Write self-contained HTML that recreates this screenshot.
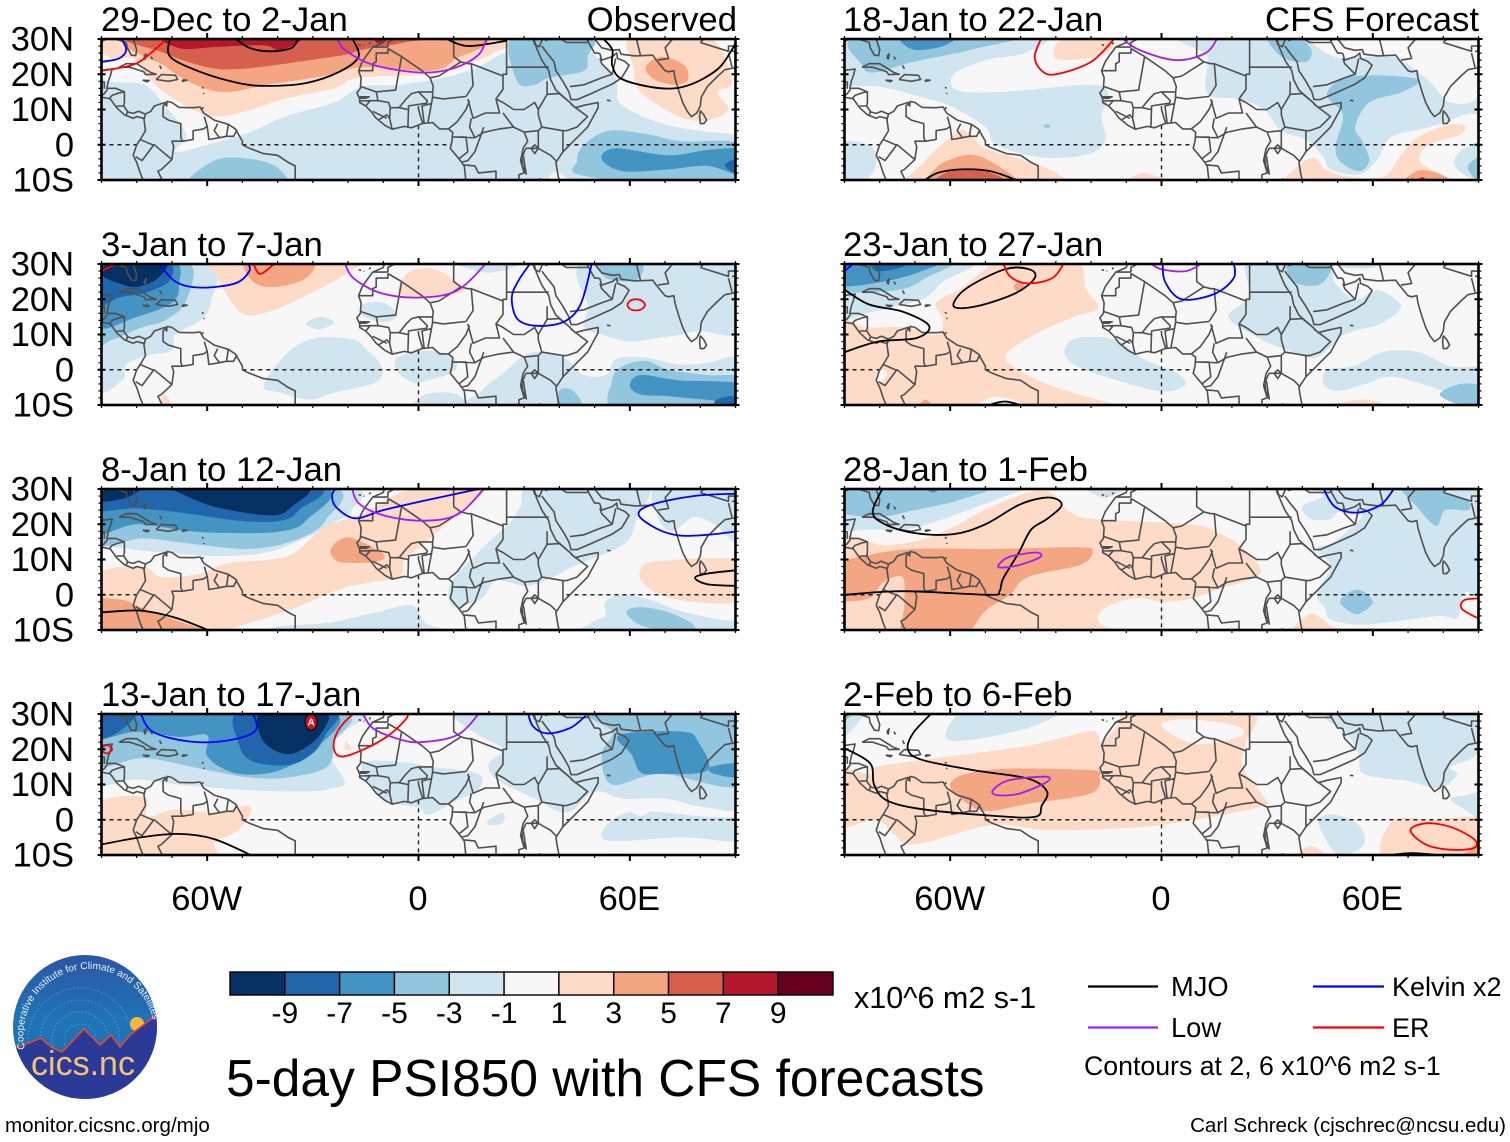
<!DOCTYPE html>
<html lang="en">
<head>
<meta charset="utf-8">
<title>5-day PSI850 with CFS forecasts</title>
<style>
html,body{margin:0;padding:0;background:#fff;width:1510px;height:1142px;overflow:hidden}
svg{display:block}
text{font-family:"Liberation Sans",sans-serif;fill:#000}
</style>
</head>
<body>
<svg id="chart" xmlns="http://www.w3.org/2000/svg" width="1510" height="1142" viewBox="0 0 1510 1142">
<rect width="1510" height="1142" fill="#fff"/>
<g id="panels"></g>
<g font-size="34.7">
<text x="101" y="31" font-size="34.7">29-Dec to 2-Jan</text>
<text x="101" y="256" font-size="34.7">3-Jan to 7-Jan</text>
<text x="101" y="481" font-size="34.7">8-Jan to 12-Jan</text>
<text x="101" y="706" font-size="34.7">13-Jan to 17-Jan</text>
<text x="843" y="31" font-size="34.7">18-Jan to 22-Jan</text>
<text x="843" y="256" font-size="34.7">23-Jan to 27-Jan</text>
<text x="843" y="481" font-size="34.7">28-Jan to 1-Feb</text>
<text x="843" y="706" font-size="34.7">2-Feb to 6-Feb</text>
<text x="737" y="31" font-size="34.7" text-anchor="end">Observed</text>
<text x="1479" y="31" font-size="34.7" text-anchor="end">CFS Forecast</text>
</g>
<g id="colorbar"></g>
<text x="854" y="1008" font-size="30.5">x10^6 m2 s-1</text>
<text x="226" y="1096" font-size="51.5">5-day PSI850 with CFS forecasts</text>
<g>
<line x1="1088" x2="1158" y1="986.5" y2="986.5" stroke="#000" stroke-width="2.2"/>
<text x="1171" y="996" font-size="27.3">MJO</text>
<line x1="1313" x2="1384" y1="986.5" y2="986.5" stroke="#0000ff" stroke-width="2.2"/>
<text x="1392" y="996" font-size="27">Kelvin x2</text>
<line x1="1088" x2="1158" y1="1027.5" y2="1027.5" stroke="#a020f0" stroke-width="2.2"/>
<text x="1171" y="1037" font-size="27.3">Low</text>
<line x1="1313" x2="1384" y1="1027.5" y2="1027.5" stroke="#ff0000" stroke-width="2.2"/>
<text x="1392" y="1037" font-size="27">ER</text>
<text x="1084" y="1075" font-size="26.7">Contours at 2, 6 x10^6 m2 s-1</text>
</g>
<text x="5" y="1132" font-size="20.6">monitor.cicsnc.org/mjo</text>
<text x="1506" y="1132" font-size="20.5" text-anchor="end">Carl Schreck (cjschrec@ncsu.edu)</text>
<g>
<defs>
<linearGradient id="logoSky" x1="0" y1="0" x2="0" y2="1"><stop offset="0" stop-color="#2b55a5"/><stop offset=".45" stop-color="#1f74b6"/><stop offset="1" stop-color="#1d6cb0"/></linearGradient>
<clipPath id="logoClip"><circle cx="85" cy="1027" r="72"/></clipPath>
<path id="logoArc" d="M 25 1049 A 64 64 0 1 1 153 1020"/>
</defs>
<circle cx="85" cy="1027" r="72" fill="url(#logoSky)"/>
<g clip-path="url(#logoClip)">
<g fill="none" stroke="#8fc0e4" stroke-opacity=".45" stroke-dasharray="1.5 2">
<circle cx="80" cy="1040" r="16"/><circle cx="80" cy="1040" r="28"/><circle cx="80" cy="1040" r="40"/><circle cx="80" cy="1040" r="52"/>
</g>
<circle cx="137" cy="1024" r="7" fill="#f5b83d"/>
<path d="M10 1050 L16 1048 L41 1038 L51 1047 L62 1052 L84 1029 L100 1045 L111 1035 L120 1047 L130 1035 L158 1014 L160 1105 L10 1105Z" fill="#2b3a96" stroke="#e8482c" stroke-width="1.6"/>
</g>
<text font-size="10" style="fill:#e8f2fa"><textPath href="#logoArc">Cooperative Institute for Climate and Satellites</textPath></text>
<text x="83" y="1075" font-size="34" text-anchor="middle" style="fill:#f3c27a">cics.nc</text>
</g>
</svg>
<script>
// ---- axis labels ----
const latTicks = [30, 20, 10, 0, -10];
const latTickLabels = ['30N', '20N', '10N', '0', '10S'];
const lonTicks = [-60, 0, 60];
const lonTickLabels = ['60W', '0', '60E'];
// ---- colour scale ----
const levelBreaks = [-9, -7, -5, -3, -1, 1, 3, 5, 7, 9];
const levelColors = ['#053061', '#2166ac', '#4393c3', '#92c5de', '#d1e5f0', '#f7f7f7', '#fddbc7', '#f4a582', '#d6604d', '#b2182b', '#67001f'];
const seriesColors = {mjo: '#000000', low: '#a020f0', kelvin: '#0000ff', er: '#ff0000'};
// ---- panel background psi value ----
const baseValues = [-2, 0, 0, 0, 0, 0, 0, 0];
// ---- filled PSI850 anomaly regions: [psi value, lon, lat, lon, lat ...] ----
const fills1 = [
[0,-92,31,-90,19,-78,17,-72,11,-66,3,-69,-2,-60,0,-48,3.5,-38,8,-24,12,-16,16.5,-5,17,11,20,22,25,25,31],
[0,49.5,31,56,19,57.5,11.5,71,5.5,89,3,92,3,92,31],
[0,36.5,-11,39,-7.5,43,-11],
[2,-88,31,-88,25,-81,24.5,-78.5,21,-73,15.5,-65,10.5,-58,8,-49,9.5,-38,13,-24,16,-17,19,3,20,11,22,21,26,22,31],
[2,60.5,31,61,22,63,15,74,8,82,7,88,10,85,15,89,18,82,31],
[4,64.5,22,69,25,75.5,22.5,76.5,18.5,73,17,67,18.5],
[4,-79,31,-71.5,22,-62,16.5,-54,15,-43,17,-27,19.5,-16,22,3,21,10,24,14,31],
[6,-79,31,-72,26,-60,22,-51,21.5,-38,23,-21,25.5,-16,27,-4,29,1,31],
[8,-71,31,-67.5,27.3,-56.5,27.8,-44,28.2,-39,26.8,-35,31],
[8,-13,31,-11,28.5,-8,31],
[-4,27,31,28,18,33,17,37,19,47,21,48,25,49,31],
[-4,-65,-12,-58,-4.5,-48,-4,-40,-6.5,-39,-12],
[-4,45,-4.5,47,0,54,4,65,3,74.5,1,92,0,92,-12,48,-9],
[-6,52,-4,56,-1,71,-3,82,-1.5,92,-1.5,92,-8.5,82,-6,71,-7,58,-7.5],
[-8,87,-6,91,-4,92,-9]
];
const fills2 = [
[-2,-59,32,-59,19,-62,14,-69,10,-70,5.5,-77,4,-83,1.5,-84,-3,-92,-4,-92,32],
[-2,48,31,48,18,47,12,52,10,60,8,68,9,75,10,80,11,92,11,92,31],
[-2,17,-12,18,-6,24,-1,30,4,35,5,42,3,46,-1,50,-2,54,-1,56,3,64,3.5,74,1.5,82,2,92,3,92,-12],
[-2,-44,-4.5,-37,5,-29,9,-18.5,8.5,-14.5,5.5,-10.5,1,-12,-3.5,-24,-6.5,-31,-8.5,-39,-6.5],
[-2,-6,-0.5,-6,3.5,3,5.5,10,3.5,10,-0.5,1,-3.5,-2,-3.5],
[-2,-2,-12,2,-7,11,-7,13,-12],
[-2,-16,18.5,-10,19,-6,15.5,-10,13.5,-16,15.5],
[-2,-32,13,-28,15,-24,13.5,-28,11.5],
[-2,10,31,20,27.5,30,31],
[-4,-66,31,-66,19.5,-72,14,-78.5,12,-87,8.5,-92,8,-92,31],
[-6,-70,31,-68,24,-70,19,-80,15,-92,12.5,-92,31],
[-8,-72,31,-70.5,25.5,-77,22,-85,20.5,-92,18,-92,31],
[-10,-72,31,-74,26,-80,23.5,-85,24.5,-90,27,-88,31],
[2,-57,31,-57,26.5,-55.5,23,-50,16,-43,16.3,-32,21,-21,27,-19,31],
[4,-48.5,31,-47,25,-40.5,23.5,-32,26,-30.5,31],
[2,-5,25,-1,28.5,6,28,13,22.5,3,20.5,-5,21.5],
[2,-73.5,-12,-72,-7,-69.5,-12],
[-4,51,31,53.5,26,62,25.5,63,31],
[-4,55,-3,58,1,64.5,2.5,71,0,82,-1.5,92,-2.5,92,-12,57,-12],
[-4,40,-12,40,-6,44,-6,47,-12],
[-6,60,-4.5,63,-1.5,74,-3,92,-4,92,-9,82,-8.5,71,-7.5,63,-7],
[-8,84,-9,88,-7.5,92,-8.5,92,-10.5,86,-10.5]
];
const fills3 = [
[-2,-92,16,-82,13,-72,12,-58,11,-43,12,-30,17,-24,20.5,-19,24,-22,31,-92,31],
[-2,26,20.5,29,25,33,31,64,31,62,22,60,16,56,13,44,8,36,4,30,2.5,22,4,18,-1,10,-3.5,9,3,16,11,21,16],
[-2,68,31,68,22,72,18,78,22,84,20,92,14,92,31],
[-2,53,-2,58,0,66,-1.5,74,-4.5,85,-7,92,-8,92,-12,47,-12,49,-8,53,-6],
[-2,-43,-12,-40,-9,-26,-8,-12,-5,-2,-3,2,-8,8,-12],
[-4,-92,14.5,-78.5,16,-65,14.5,-48,13,-35,15.5,-26.5,21,-26.5,31,-92,31],
[-6,-92,17.5,-80,20,-65,18,-51,17.5,-39,18,-32,21,-28.5,31,-92,31],
[-8,-92,24,-80,24.5,-65,23,-51,21,-39,21,-34,24,-30.5,31,-92,31],
[-10,-92,31,-92,26.5,-83,27.5,-79,31],
[-10,-72,31,-68,29,-58,25,-42,22.5,-36,25,-33,31],
[2,-92,5,-78.5,8,-73,5,-62,6,-54,9,-37,11,-27,19,-16,23,-2,30,19,31,11,23,1,14,-4,10,-6,5,-21,2,-37,-4.5,-54,-10,-54,-12,-92,-12],
[4,-25,12.5,-22.5,15.5,-18.5,16,-10,11.5,-11.5,9.5,-17,9,-23,9.5],
[4,-92,-2,-84,-1.5,-79,-3.5,-68,-7.5,-61,-10,-60,-12,-92,-12],
[2,63,7,68,9.5,92,9.5,92,-1.5,74,-1.5,64.5,2.5],
[-4,59,-5,63,-3.5,71,-5,78,-8.5,77,-11,64,-9]
];
const fills4 = [
[-2,-92,11,-80,11.5,-68,10,-50,8.5,-32,8,-24,9,-21,11,-26,20,-21,25,-20,31,-92,31],
[-2,24,31,92,31,92,5,82,3.5,70,6,58,6,50,8,42,2,33,6,22,11.5,20,16,24,20,17,24,10,30],
[-2,-16,16,-6,16.5,4,15,17,13,17,8.5,11,5.5,3,1.5,0,3.5,-8,5,-13,9],
[-2,52,-5,55,0,63,2.5,80,1,92,0,92,-6,75,-5,58,-6],
[-2,20,0,24,2,24,-1,20,-1.5],
[0,60,3,63,5,66,3,63,1],
[2,-92,4,-78,6.5,-77,1,-69,3,-58,2,-48.5,4,-48,1,-52,-3.5,-58,-6.5,-59,-12,-92,-12],
[2,-5,-11,0,-9.5,5,-11],
[2,52,-11,56,-9.5,60,-11],
[2,-21,20,-20.5,22,-19,20],
[-4,-92,15.5,-78,17.5,-62,14.5,-48,12,-37,12,-26,15,-24,22,-24,31,-92,31],
[-6,-92,23,-80,25,-68,23.5,-60,24,-60,18,-53,13.5,-44,13,-36,15.5,-28,21,-27,31,-92,31],
[-8,-92,31,-92,23,-85,25,-80,31],
[-8,-50.5,31,-51,21.5,-47,16.5,-37,15.5,-30.5,18.5,-26.5,24,-24,31],
[-10,-44,31,-45,24,-40.5,19.5,-35,19,-28,24,-26.5,31],
[-4,49,31,55,25,52,18.5,55,10,69,13,92,10,92,31],
[-6,57,24,75,25,79.5,22,82,14,68,13,63,13.5,60.5,18.5],
[-6,83,15,92,16,92,12,84,13]
];
const fills5 = [
[-2,-92,31,-92,18,-80,16.5,-70,14,-60,11,-50,5,-47,0,-35,-3.5,-22,-3,-16,1,-17,8,-15,14,-20,17,-45,15,-58,15.5,-59,20,-50,24,-39,26,-36,31],
[-2,-92,0,-83,0,-81,-5,-84,-10,-92,-12],
[-2,10,31,13,25,13,14.5,22,13,29,10,34,4,41,1.5,46,-3.5,48,-7,56,-8.5,61,-4.5,64,1,67,3,76,5,86,8.5,92,11,92,31],
[0,46,31,49,25,61,25,68,24,76,18,82,12,90,14,92,31],
[-2,83,-5,86,-1,92,0,92,-10,86,-8.5],
[-4,87,-6,91,-3.5,92,-9,89,-9.5],
[-4,-86,31,-85,22.5,-81.5,20.5,-70.5,23.5,-54,27,-41,31],
[-6,-74,31,-70.5,27,-62,28,-59,31],
[-4,30,31,34,25,41,23.5,42.5,27,38,31],
[-4,51,18.5,60,19.7,73,18.5,68.5,15,59,12,55,5,57,1,59,-4.5,56,-7.5,50.5,-4.5,49.5,0,51.5,8.5,47,14],
[-4,-33.5,5.3,-32.5,5.8,-31.5,5.3,-32.5,4.8],
[2,-70,-12,-67,-4.5,-58,3.5,-55,3.5,-50,-1,-40.5,-4,-30,-8,-29,-12],
[4,-65,-12,-64,-6.5,-56,-3,-50,-4,-42,-9,-40,-12],
[6,-63.5,-11,-60,-7.5,-50,-7.5,-44.5,-11],
[2,-30.5,25,-29.5,29,-24,31,-16,31,-13.5,28,-19,25,-27,24],
[2,-11,-12,-5,-8,3,-12],
[2,38,-12,40,-5,44,-4,46.5,-7,53,-9,63,-9,68,-3,72.5,2,81,5.5,86,5.5,85,3,76,0,73.5,-5,83,-10,84,-12],
[4,68,-12,72.5,-7.5,78,-8,82,-11]
];
const fills6 = [
[2,-92,13,-84,12,-73,12,-64,10,-62,14,-64,19,-57,23,-49,29.5,-49,31,-25,31,-21.5,23,-18,17.5,-25,15,-36,10,-44,4.5,-41.5,0.5,-30,-5,-13,-10,-13,-12,-92,-12],
[0,-79,0,-78,-1.5,-80,-3.5,-81,-1.5],
[0,-51.5,-12,-49,-8,-42,-8.5,-37,-12],
[4,-69,-10.5,-67,-8.5,-65,-10.5,-67,-12],
[4,-42,23.5,-40.5,25,-39,23.5,-40.5,22],
[2,40,-11,50,-9.5,58,-8.5,65,-11],
[-2,-92,31,-92,15,-82,16.5,-68,20,-62,25,-54,31],
[-4,-92,23,-83,22,-73,23,-67,26,-60,31,-92,31],
[-6,-92,31,-92,24,-79,25,-68,28,-64,31],
[-8,-82,31,-81,28,-74,29,-72,31],
[-2,25,31,25,21,19,15,27.5,9,36,5.5,44,3.5,52,10,62,13,68,18,61.5,22.5,55,20,49,25,47,31],
[-2,47,31,52,29,60,29,61,31],
[-4,36,31,37.5,25,44.5,24,48,28,47,31],
[-2,46,-4,47,0,54.5,1,63,5,73,5,82,1,92,0,92,-10,80,-6,66,-2,58,-4,50,-6],
[-4,79,-7,85,-4,92,-5,92,-10,85,-10],
[-2,-27.5,5.5,-24,9,-13,8.5,-5,3,4.5,-1,6.5,-4.5,-1,-6,-19,-1,-25.5,2]
];
const fills7 = [
[-2,-92,31,-92,19,-83,18.5,-70,19,-55,24,-40,29.5,-30,32],
[-2,-22,31,-16,27.5,-10,31],
[-4,-92,31,-92,24,-81,22,-70,24,-57,27,-50,31],
[-6,-67,31,-65,29,-61.5,31],
[2,-92,15,-78,14,-64,17,-46,26,-33,29.5,-26,23.5,-19,21.5,8,20,15,18,23,13.5,28,6,16,1.5,9,-1,1,-2,-8,-1,-17,-4.5,-16,-9,0,-12,-92,-12],
[4,-92,8,-84.5,11,-70,13,-47,13,-24,13.5,-19.5,12.5,-23,8.5,-38,5,-43,0,-50,-4.5,-57,-12,-73,-12,-73,-3,-73.5,5,-79,3.5,-83,-1,-92,-1],
[-2,46,31,46,28,40,25,42.5,21.5,48,21.5,50.5,23.5,57,22.5,49,15,44,13,48,8,44,0.5,46.5,-4,48,-7,56,-8.5,67,-7.5,79,-6,84,-6.5,86,0.5,92,2,92,31],
[-4,68,31,72.5,25,78,19.5,80.5,24,87,24,87,26.5,80.5,29,79,31],
[-4,50.7,-2,55.4,1.5,60,-2,55.4,-5.5],
[2,39,-11,42,-5.5,46,-7,50,-9.5,66,-10,67,-12]
];
const fills8 = [
[2,-92,13.5,-83,13,-81,15,-60,18,-38,21,-21,25,-18,24,-17,22,-12,27,-8,31,25,31,24,22,23,15,29,6.5,29,4,15,1,-5,-2,-32,-3,-48,-1.5,-70,-7,-76,-4,-81,0,-92,-1.5],
[0,0,26.5,6,28.5,20,27,23,24,10,21.5],
[4,-60,10,-55.5,13,-43.3,14.5,-19,14,-17.5,12.5,-20,7.5,-38,4.5,-50,2.5,-57,6],
[-2,-61,23,-59.5,28,-54,31,-29.5,31,-38,26,-54,22.7],
[-2,-92,31,-92,22,-84,31],
[-4,-92,31,-92,26.5,-87,31],
[-2,48,31,53,24,56,18.5,57.5,13,70,11,79,9,84,13,82,15,90,19,92,31],
[-2,82,6,86,3,92,0,92,8,87,7],
[-2,44.5,-0.5,49,1.5,56,-1.5,57.5,-7,52,-10,48.5,-8.5],
[2,64,-12,65.5,-0.5,76.5,0,92,0,92,-12],
[4,84,-11,87,-9,90.5,-6,92,-12],
[2,37,-12,42.5,-7.5,48,-12]
];
const panelFills = [fills1, fills2, fills3, fills4, fills5, fills6, fills7, fills8];
// ---- wave contours: [series, closed(0/1), lon, lat, ...] ----
const lines1 = [
['mjo',0,-70.5,30.5,-70.5,25,-62,20.7,-51,17.5,-43,16.7,-32,17.5,-22.5,20.7,-17,25,-19,30.5],
['mjo',0,-52.5,30.5,-48,27.5,-42,26.5,-36,27.5,-34,30.5],
['mjo',0,7,30.5,14,28,25,29.5],
['mjo',0,52,30.5,55,27,55,22.5,58,18.5,69,16,77,17,85,21.5,89,27,90.5,30],
['low',0,-23,30.5,-21,27,-13,22.7,0.5,20.5,10,21.7,17,25.5,19.5,30.5],
['kelvin',0,-84.5,30.5,-83,27,-85,24.5,-90,23.5],
['er',0,-71,30.5,-76,26,-81,22.7,-90,21]
];
const lines2 = [
['kelvin',0,-74,30.5,-69,25,-62,23.3,-52,24.5,-48,28,-48.5,30.5],
['er',0,-90,28,-85,30.5],
['er',0,-47,30.5,-45,27.2,-41,30],
['low',0,-21,30.5,-18.5,26,-10.5,21.7,0.5,20.5,11,22.5,19.5,30.5],
['kelvin',0,32,30.5,28.5,25.5,26.5,20.5,28,14.5,33,12.5,41,13.5,46,18.5,49.3,30.5],
['er',1,59.3,18.4,60.5,19.8,63,19.8,64.3,18.4,63,17,60.5,17]
];
const lines3 = [
['kelvin',0,-23,30.5,-24.5,28.5,-23.5,25,-18,21.7,-10,24,3,27,19.5,30.5],
['low',0,-19,30.5,-17,26,-10.5,22.7,0.5,21,11,22.7,19,30.5],
['kelvin',0,90.5,28.7,78,28,66,25.5,62.5,22.7,67.5,18.8,74,16.8,82,17,90.5,18],
['mjo',0,-90,-5,-79,-4.5,-69,-6.5,-59,-10.3],
['mjo',0,90.5,7,82,6,78.5,4.8,82,3,90.5,2.5]
];
const lines4 = [
['kelvin',0,-79,30.5,-75.5,25,-65,22.2,-54,22.5,-46.5,25,-46.5,29,-48,30.5],
['er',1,-90,20,-88.5,21.2,-87,20,-88.5,18.8],
['er',1,-3.5,30.5,-5,27,-11.5,22,-21,18,-24,20,-23,25,-18.5,30,-12,33],
['low',0,-16,30.5,-13,26,-6,23,0.5,22,11,24,17.5,30.5],
['kelvin',0,31,30.5,32.5,26.5,36.5,24.5,43,26,47.5,29.5],
['mjo',0,-90,-7,-79,-5,-68,-4,-58,-5.5,-47,-10.3]
];
const lines5 = [
['er',0,-34,30.5,-36,25,-34,21,-30,20,-20,23.5,-13,30.5],
['low',0,-11.5,30.5,-6.5,27,4,24,12.5,26,16,30.5],
['mjo',0,-68,-10.5,-63.5,-8,-57,-7,-48.5,-7.5,-40,-10.5],
['er',0,72.5,-10.5,74,-9.5,75.5,-10.5]
];
const lines6 = [
['kelvin',0,-90,28,-87,30.5],
['mjo',1,-59,18,-55.5,23,-44.5,28.5,-37.5,28.5,-36,26,-41.5,21.7,-52.5,18],
['er',0,-45,30.5,-43,26.5,-38,24.5,-31,26,-27.5,30.5],
['low',0,-3.5,30.5,0,28.5,7,28,12,30.5],
['kelvin',0,0.3,30.5,1,25,5.7,20,15,21.5,20.5,26,20.5,30.5],
['mjo',0,-90,22.7,-83,18.5,-73.5,16.5,-66,12.5,-69.5,9,-80.5,8,-90,5],
['mjo',0,-50,-10.3,-44.5,-9,-39,-10.3]
];
const lines7 = [
['mjo',0,-90,0,-73.5,1,-49,0,-46,1,-45,4.5,-40.5,12,-37,18.5,-32.5,21.5,-28.5,25,-29.5,27,-33.5,27.5,-40.5,25.5,-50,20,-59,17.2,-70,17.5,-78.5,20,-82,23.5,-79,30.5],
['low',1,-46.3,8.4,-43.3,10.7,-35.8,12,-34.4,10.7,-40.5,8.4,-45.4,7.7],
['kelvin',0,45.8,30.5,49.2,25,55.4,23.3,62.2,25.5,66.3,30.5],
['er',0,90.5,-1,86,-1.5,85.3,-4,90.5,-7]
];
const lines8 = [
['mjo',0,-65,30.5,-70.5,24.6,-72,20,-68,17,-53,14,-38,11.7,-32.5,8,-34,4,-36,0.8,-49,1.2,-68,3,-78,5.5,-81.6,10,-82.7,16,-90,20.3],
['low',1,-47.8,8.4,-43.3,11.2,-33,12.2,-32.6,10.7,-40.5,7.4,-46.7,7],
['er',1,70.7,-3,75,-1,82,-2,88.7,-5.5,88.7,-8,82,-8.5,75,-7],
['mjo',0,64,-10.2,71,-9.5,80.5,-10.2]
];
const panelLines = [lines1, lines2, lines3, lines4, lines5, lines6, lines7, lines8];
// ---- storm symbol in panel 4 ----
const stormLon = [-30.5];
const stormLat = [27.7];
const stormLabel = ['A'];
// ---- equator segments over ocean (lon from, lon to) ----
const equatorSegments = [[-90,-79.5],[-50,9.5],[42,90]];
// ---- coast and border polylines, lon/lat ----
const coastlines = [
[-90,29.3,-88,30.3,-85,29.7,-83,29,-82.7,27.5,-81.5,25.4,-80.3,25.3,-80,27,-81,30,-81,31],
[-90,21.1,-87,21.5,-87.5,19.5,-88,18.2,-88.5,16,-86,16,-83.5,15,-83.5,12,-83.7,11,-82.5,9.3,-81,8.9,-79.5,9.5,-77.5,8.7,-76,9.5,-75,11,-72,12,-71.5,11,-71.4,12.3,-70,12,-68,10.6,-64,10.5,-62,10.7,-61,9,-58,7,-54,5.8,-52,4.5,-50,1,-50,0,-48,-1,-44,-2.5,-40,-3,-37,-5,-35,-6,-35,-10.5],
[-90,13.5,-87.5,13,-85.7,10.5,-83.5,8.5,-81,7.5,-80,8,-78,7.5,-77.5,4,-79,1.5,-80,0,-81,-3,-80,-5,-79,-8,-78,-10.5],
[-85,22,-83,23,-80,23,-76,20.5,-74.5,20,-77.5,19.9,-78,20.7,-82,22,-85,22],
[-74.5,18.5,-73,19.9,-69,19.7,-68.4,18.5,-71,18,-74.5,18.5],
[-78.3,18.3,-76.5,18.2,-77,17.9,-78.3,18.3],
[-67,18.4,-65.7,18.3,-67,18,-67,18.4],
[-78,25,-77.3,25.8,-77.6,24.3,-78,25],[-76,25,-75.5,24.2],[-73.5,22.5,-73,21.5],
[-61.5,16.3,-61,16],[-61,14.7,-60.9,14.4],[-61.5,10.2,-61,10.6],
[-17,28.4,-16.3,28.2],[-15.6,28,-15.4,27.9],[-14,28.5,-13.6,29],
[-90,17.8,-89.2,17.8,-89.2,15.9],[-88.3,15.7,-89.3,14.4,-90,14],[-87.7,13.2,-87,14,-85,14.7,-83.5,15],[-85.7,11,-83.7,11],[-83,8.3,-82.6,9.5],[-77.5,8.7,-77.9,7.2],
[-71.5,12,-72.5,11,-72.5,8,-71,7,-67.5,6,-67.5,2,-67,1,-70,1,-69.5,-0.5,-70,-4.2],
[-78.8,1.4,-75.5,0,-75,0,-70,-4.2],[-80.3,-3.4,-78.5,-4.5,-75.3,-0.2],
[-67,1,-64,1.5,-64,4,-61,4.5,-60,5.2,-60.8,8],[-60,5.2,-59.5,1.5,-56.5,2],[-57,6,-58,4,-56.5,2],[-54,5.8,-54.5,2.4],[-51.5,4.3,-52.5,2.4,-54.5,2.4],[-56.5,2,-54.5,2.4],
[-70,-4.2,-73,-7,-74,-7.5,-72.5,-10.5],
[-9.5,31,-10,29,-13,27.7,-15,25,-16,23.5,-17,21,-16.3,19,-16.5,16,-17.5,14.7,-16.7,13,-16.7,12,-15,11,-13.5,9.5,-12,7.5,-9.5,5.5,-7.5,4.4,-4,5.2,-2,4.8,1,6,4,6.3,6,4.5,8.5,4.5,9.7,3.5,9.5,1,9,-1,11.5,-4,13,-6,13.5,-10.5],
[32.5,31,33.5,27.5,35,24,37,21,37.5,18.5,39,15.5,43,12,43.5,11.5,44.5,10.5,47,11.2,51,12,51,10.5,48,5,45,2,41,-2,39,-5,39.5,-8,40,-10.5],
[32.5,30,33,28.5,34.3,27.8,35,29.5,35,30.5],
[35,28,36.5,26,38.5,23.5,39,21,41,18,42.7,15,43.3,12.8,45,12.8,49,14.5,52.3,16,55,17.2,57.7,19,59.8,22.5,58.5,23.7,56.5,24.5,56.3,26,55,25,52,24,51.5,25.8,51,26,50,26,48,29.5,48.7,30],
[48.7,30,50,30,52,27.5,55,26.8,57,27,57.5,25.7,61.5,25.2,66.5,25.4,67.5,24,70,21,71,20.7,72.5,21,72.8,19,74,15,75,12,76.3,9.5,77.5,8,79,9,80,11,80.3,13.5,82,16.5,85,19.5,87,21.3,90.5,22],
[80,9.7,81,8.5,81.8,7,81,6,80,6,79.8,8,80,9.7],
[53.5,12.6,54.5,12.5],
[-8.7,27.7,-13,27.7],[-8.7,27.7,-8.7,29,-5,31],
[-17,21,-13,21,-13,23,-12,23.5,-12,26,-8.7,26,-8.7,27.3],[-4.8,25,-8.7,27.3],[-4.8,25,-6.5,15.5,-12,15,-16.3,16.5],
[-4.8,25,1,21,3.3,19,4.2,16.5,4,15,0,15,-2,14.5,-3.5,13,-5.5,10.5,-8,10.5,-8.5,12,-11.5,12.5,-12,15],
[3.3,19,5.8,19.5,12,23.5,10,25,10,31],[12,23.5,14,23,15,23,24,19.5,24,20,25,20,25,31],
[15,23,15.5,16.8,13.5,13.7],[4,15,4,13.5,7,13,13.5,13.7],
[24,19.5,24,15.7,22,13,23,9,19,9,15.5,7.5,14,13],
[25,22,37,22],[36.5,18,36.5,14.3,34,10,34,8.5,35,5],[24,9,27,5,30,3.6,34,4,35,5],
[22,13,24,12,27,10,30,10,33,12,34,10],
[35,5,41,4,42,4,45,5,48,8,43.3,11.5],[36.5,14.3,40,14.5,43,12],[41,4,41,-2],
[34,4,34,1,34,-1,37.5,-3,39.2,-4.7],[30,3.6,31,1,29.7,-1],[30.5,-1,29,-4.5],[34,-1,30.5,-1],
[34.5,-10.5,40.4,-10.5],[29.7,-1,29,-4.5,30,-8,28.5,-8.5,28.5,-10.5],
[12.5,-5.7,16,-6,17,-8,22,-7.5,22,-10.5],[12,-5,14,-4.5,16,-2,18,3.5,18.5,5],
[15,7.5,14.5,5,16,2,18.5,3.5,23,4.5,27,5],[8.5,4.5,11,6.5,13.5,10,14.5,12.5],[9.8,2.2,16,2],[9.7,2.2,13.5,2.2,14,-2,11.5,-4],
[2.7,6.4,3.7,11.7,4,13.5],[1.6,6.2,1,11,3.7,11.7],[1.2,6,0,10,0,11],[-3,5,-2.8,11],[-3,11,2.3,11.8,2.5,12.5,0,15],
[-7.5,4.4,-8.2,7.5,-8,10.5],[-5.5,10.5,-3,10],[-13,9.5,-11,8.5,-9,7.5],[-11.4,7,-9,8.5,-8.2,7.5],[-16.7,12.4,-13.7,12.5,-15,11],[-13.7,12.5,-11.5,12.5],[-16.7,13.6,-14,13.6,-15,13.2,-16.7,13.2],
[29.3,-3.3,29.6,-6,30.6,-8.3,30.2,-6,29.8,-3.3,29.3,-3.3],[32,-1,33,0,34,-1,33,-2.5,32,-1],[34.3,-9.5,34.7,-10.5],
[43,16.5,47,17,52,19,55,20,52,23,51.5,24.5],[55,20,56,24.5],[36,29.5,39,31],[36,31,39,32],[39,31,42,29,46.5,29,48,29],
[63,25.5,62,29.5,61,31],[68,24,71,24.5,70,27.5,73,31],[80,29,88,26.5,88,28,90.5,28],[78,31,81,30,80,29],[88,26,89,22],[89,26.5,90.5,26.5]
];

// ---- helpers ----
const SVGNS = 'http://www.w3.org/2000/svg';
const panelX = [101.5, 101.5, 101.5, 101.5, 844.5, 844.5, 844.5, 844.5];
const panelY = [39, 264, 489, 714, 39, 264, 489, 714];
const PW = 634, PH = 141;
function lonScale(lon, x0) { return x0 + (lon + 90) / 180 * PW; }
function latScale(lat, y0) { return y0 + (30 - lat) / 40 * PH; }
function colorOf(v) {
  let i = 0;
  while (i < levelBreaks.length && v > levelBreaks[i]) i++;
  return levelColors[i];
}
function mk(tag, attrs, parent) {
  const e = document.createElementNS(SVGNS, tag);
  for (const k in attrs) e.setAttribute(k, attrs[k]);
  parent.appendChild(e);
  return e;
}
function smooth(pts, closed) {
  const n = pts.length;
  const at = i => closed ? pts[(i + n) % n] : pts[Math.max(0, Math.min(n - 1, i))];
  let d = 'M' + pts[0][0].toFixed(1) + ' ' + pts[0][1].toFixed(1);
  const m = closed ? n : n - 1;
  for (let i = 0; i < m; i++) {
    const p0 = at(i - 1), p1 = at(i), p2 = at(i + 1), p3 = at(i + 2);
    d += 'C' + (p1[0] + (p2[0] - p0[0]) / 6).toFixed(1) + ' ' + (p1[1] + (p2[1] - p0[1]) / 6).toFixed(1) + ' '
      + (p2[0] - (p3[0] - p1[0]) / 6).toFixed(1) + ' ' + (p2[1] - (p3[1] - p1[1]) / 6).toFixed(1) + ' '
      + p2[0].toFixed(1) + ' ' + p2[1].toFixed(1);
  }
  return d + (closed ? 'Z' : '');
}
function project(flat, start, x0, y0) {
  const out = [];
  for (let i = start; i + 1 < flat.length; i += 2) out.push([lonScale(flat[i], x0), latScale(flat[i + 1], y0)]);
  return out;
}

// ---- build panels ----
const root = document.getElementById('panels');
const defs = mk('defs', {}, root);
panelX.forEach((x0, idx) => {
  const y0 = panelY[idx];
  const clip = mk('clipPath', {id: 'clip' + idx}, defs);
  mk('rect', {x: x0, y: y0, width: PW, height: PH}, clip);

  const g = mk('g', {}, root);
  
  

  const inner = mk('g', {'clip-path': 'url(#clip' + idx + ')'}, g);
  const bg = mk('rect', {x: x0, y: y0, width: PW, height: PH, fill: colorOf(baseValues[idx])}, inner);
  
  

  panelFills[idx].forEach(f => {
    const p = mk('path', {d: smooth(project(f, 1, x0, y0), true), fill: colorOf(f[0])}, inner);
    
    
  });

  equatorSegments.forEach(s => {
    const eq = mk('line', {x1: lonScale(s[0], x0), x2: lonScale(s[1], x0), y1: latScale(0, y0), y2: latScale(0, y0), stroke: '#222', 'stroke-width': 1.4, 'stroke-dasharray': '4 4'}, inner);
    
    
  });
  const mer = mk('line', {x1: lonScale(0, x0), x2: lonScale(0, x0), y1: latScale(5.5, y0), y2: latScale(-10, y0), stroke: '#222', 'stroke-width': 1.4, 'stroke-dasharray': '4 4'}, inner);
  
  

  let coastD = '';
  coastlines.forEach(c => {
    project(c, 0, x0, y0).forEach((pt, i) => { coastD += (i ? 'L' : 'M') + pt[0].toFixed(1) + ' ' + pt[1].toFixed(1); });
  });
  const coast = mk('path', {d: coastD, fill: 'none', stroke: '#4f4f4f', 'stroke-width': 1.6, 'stroke-linejoin': 'round'}, inner);
  
  

  panelLines[idx].forEach(l => {
    const w = mk('path', {d: smooth(project(l, 2, x0, y0), !!l[1]), fill: 'none', stroke: seriesColors[l[0]], 'stroke-width': 1.8}, inner);
    
    
  });

  if (idx === 3) {
    stormLon.forEach((lon, i) => {
      const sx = lonScale(lon, x0), sy = latScale(stormLat[i], y0);
      const st = mk('ellipse', {cx: sx, cy: sy, rx: 6, ry: 8, fill: '#c8161d', stroke: '#000', 'stroke-width': 1}, inner);
      
      
      const tx = mk('text', {x: sx, y: sy + 3.5, 'font-size': 10, 'font-weight': 'bold', 'text-anchor': 'middle', style: 'fill:#fff'}, inner);
      tx.textContent = stormLabel[i];
      
      
    });
  }

  // frame
  const frame = mk('rect', {x: x0, y: y0, width: PW, height: PH, fill: 'none', stroke: '#000', 'stroke-width': 2.6}, g);
  
  

  // ticks
  let major = '', minor = '';
  for (let lat = -10; lat <= 30; lat += 2) {
    const y = latScale(lat, y0);
    if (lat % 10 === 0) major += 'M' + (x0 - 4) + ' ' + y + 'h8M' + (x0 + PW - 4) + ' ' + y + 'h8';
    else minor += 'M' + (x0 - 3) + ' ' + y + 'h3M' + (x0 + PW) + ' ' + y + 'h3';
  }
  for (let lon = -90; lon <= 90; lon += 10) {
    const x = lonScale(lon, x0);
    if (lon % 60 === 0 && lon !== -90 && lon !== 90) major += 'M' + x + ' ' + (y0 - 6) + 'v6M' + x + ' ' + (y0 + PH) + 'v6';
    else minor += 'M' + x + ' ' + (y0 - 3) + 'v3M' + x + ' ' + (y0 + PH) + 'v3';
  }
  const tkMaj = mk('path', {d: major, stroke: '#000', 'stroke-width': 2, fill: 'none'}, g);
  
  
  const tkMin = mk('path', {d: minor, stroke: '#000', 'stroke-width': 1.2, fill: 'none'}, g);
  
  

  // y tick labels for left column
  if (idx < 4) {
    latTicks.forEach((lat, i) => {
      const t = mk('text', {x: 74, y: latScale(lat, y0) + 11.5, 'font-size': 34.5, 'text-anchor': 'end'}, g);
      t.textContent = latTickLabels[i];
      
      
    });
  }
  // x tick labels for bottom row
  if (idx === 3 || idx === 7) {
    lonTicks.forEach((lon, i) => {
      const t = mk('text', {x: lonScale(lon, x0) - 0.5, y: y0 + PH + 55, 'font-size': 34.5, 'text-anchor': 'middle'}, g);
      t.textContent = lonTickLabels[i];
      
      
    });
  }
});

// ---- colorbar ----
const cb = document.getElementById('colorbar');
const cbX = 230, cbY = 972, cbW = 603 / levelColors.length, cbH = 23;
levelColors.forEach((c, i) => {
  const r = mk('rect', {x: cbX + i * cbW, y: cbY, width: cbW, height: cbH, fill: c, stroke: '#000', 'stroke-width': 1.4}, cb);
  
  
});
levelBreaks.forEach((b, i) => {
  const t = mk('text', {x: cbX + (i + 1) * cbW, y: 1023, 'font-size': 30, 'text-anchor': 'middle'}, cb);
  t.textContent = String(b);
  
  
});
</script>
</body>
</html>
